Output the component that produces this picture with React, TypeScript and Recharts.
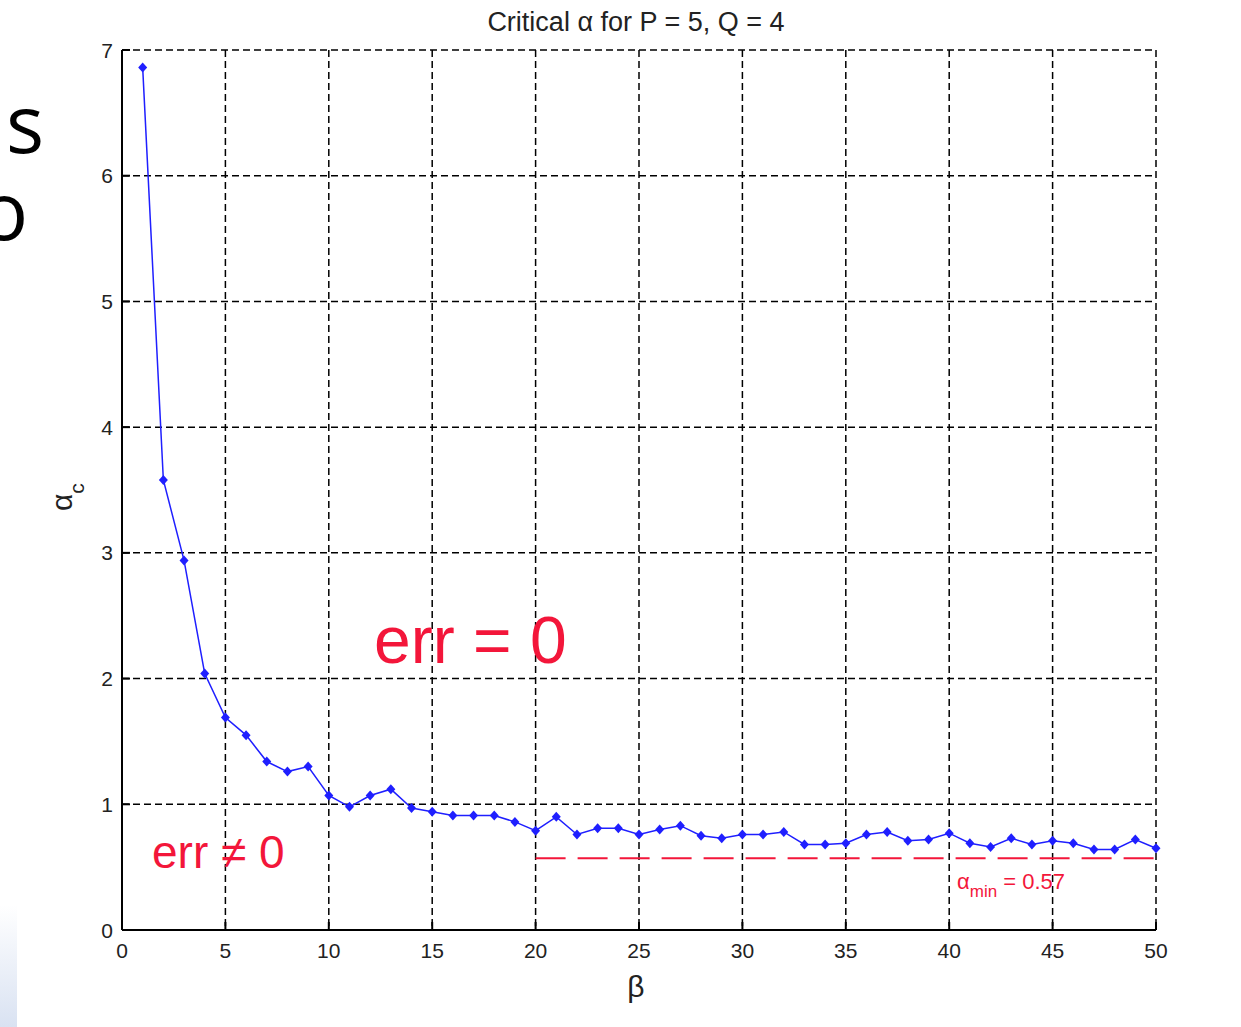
import React from 'react';
import { LineChart, Line, XAxis, YAxis, CartesianGrid, ReferenceLine } from 'recharts';

// beta values 1..50 and the critical alpha
const betas = [
  1, 2, 3, 4, 5, 6, 7, 8, 9, 10,
  11, 12, 13, 14, 15, 16, 17, 18, 19, 20,
  21, 22, 23, 24, 25, 26, 27, 28, 29, 30,
  31, 32, 33, 34, 35, 36, 37, 38, 39, 40,
  41, 42, 43, 44, 45, 46, 47, 48, 49, 50,
];
const alphaC = [
  6.86, 3.58, 2.94, 2.04, 1.69, 1.55, 1.34, 1.26, 1.30, 1.07,
  0.98, 1.07, 1.12, 0.97, 0.94, 0.91, 0.91, 0.91, 0.86, 0.79,
  0.90, 0.76, 0.81, 0.81, 0.76, 0.80, 0.83, 0.75, 0.73, 0.76,
  0.76, 0.78, 0.68, 0.68, 0.69, 0.76, 0.78, 0.71, 0.72, 0.77,
  0.69, 0.66, 0.73, 0.68, 0.71, 0.69, 0.64, 0.64, 0.72, 0.65,
];
const xTicks = [0, 5, 10, 15, 20, 25, 30, 35, 40, 45, 50];
const yTicks = [0, 1, 2, 3, 4, 5, 6, 7];
const alphaMin = 0.57;
const alphaMinFrom = 20;
const alphaMinTo = 50;

const data = betas.map((b, i) => ({ beta: b, alpha: alphaC[i] }));

const BLUE = '#1f1fff';
const RED = '#f3163a';
const FONT = '"Liberation Sans", Arial, sans-serif';

const Diamond = (props: any) => {
  const { cx, cy } = props;
  if (cx == null || cy == null) return null;
  return (
    <polygon
      points={`${cx},${cy - 5} ${cx + 4.5},${cy} ${cx},${cy + 5} ${cx - 4.5},${cy}`}
      fill={BLUE}
      stroke="none"
    />
  );
};

// tickSize is 0 and tickMargin 10, so the axis line sits 10px from the tick anchor
const YTick = (props: any) => {
  const { x, y, payload } = props;
  const axisX = x + 10;
  return (
    <g>
      <line x1={axisX} x2={axisX + 8} y1={y} y2={y} stroke="#000" strokeWidth={2} />
      <text x={axisX - 9} y={y} dy="0.36em" textAnchor="end" fontSize={21} fontFamily={FONT} fill="#222">
        {payload.value}
      </text>
    </g>
  );
};

const XTick = (props: any) => {
  const { x, y, payload } = props;
  const axisY = y - 10;
  return (
    <g>
      <line x1={x} x2={x} y1={axisY} y2={axisY - 8} stroke="#000" strokeWidth={2} />
      <text x={x} y={axisY + 28} textAnchor="middle" fontSize={21} fontFamily={FONT} fill="#222">
        {payload.value}
      </text>
    </g>
  );
};

export default function App() {
  return (
    <div style={{ position: 'absolute', left: 0, top: 0, width: 1241, height: 1027, background: '#fff' }}>
      <LineChart
        width={1241}
        height={1027}
        data={data}
        margin={{ top: 50, right: 85, bottom: 57, left: 62 }}
      >
        <CartesianGrid stroke="#000" strokeWidth={1.5} strokeDasharray="7 4" />
        <XAxis
          dataKey="beta"
          type="number"
          domain={[0, 50]}
          ticks={xTicks}
          height={40}
          tickSize={0}
          tickMargin={10}
          tickLine={false}
          axisLine={{ stroke: '#000', strokeWidth: 2 }}
          tick={XTick}
          interval={0}
        />
        <YAxis
          type="number"
          domain={[0, 7]}
          ticks={yTicks}
          width={60}
          tickSize={0}
          tickMargin={10}
          tickLine={false}
          axisLine={{ stroke: '#000', strokeWidth: 2 }}
          tick={YTick}
          interval={0}
        />
        <ReferenceLine
          segment={[
            { x: alphaMinFrom, y: alphaMin },
            { x: alphaMinTo, y: alphaMin },
          ]}
          stroke={RED}
          strokeWidth={2}
          strokeDasharray="30 12"
        />
        <Line
          type="linear"
          dataKey="alpha"
          stroke={BLUE}
          strokeWidth={1.5}
          dot={<Diamond />}
          activeDot={false}
          isAnimationActive={false}
        />
      </LineChart>

      <svg
        width={1241}
        height={1027}
        style={{ position: 'absolute', left: 0, top: 0, pointerEvents: 'none' }}
      >
        <defs>
          <linearGradient id="slideFade" x1="0" y1="0" x2="0" y2="1">
            <stop offset="0" stopColor="#ffffff" />
            <stop offset="1" stopColor="#d9e2f2" />
          </linearGradient>
        </defs>
        <rect x={0} y={905} width={17} height={122} fill="url(#slideFade)" />
        <text x={6} y={153} fontSize={80} fontFamily='"Open Sans", sans-serif' fill="#000">s</text>
        <text x={28} y={240} textAnchor="end" fontSize={80} fontFamily='"Open Sans", sans-serif' fill="#000">o</text>

        <text x={636} y={31} textAnchor="middle" fontSize={27} fontFamily={FONT} fill="#222">
          Critical α for P = 5, Q = 4
        </text>
        <text transform="translate(72,511) rotate(-90)" fontSize={30} fontFamily={FONT} fill="#222">
          α<tspan fontSize={21} dy={12}>c</tspan>
        </text>
        <text x={636} y={997} textAnchor="middle" fontSize={30} fontFamily={FONT} fill="#222">
          β
        </text>

        <text x={374} y={663} fontSize={66} fontFamily={FONT} fill={RED}>err = 0</text>
        <text x={152} y={868} fontSize={46} fontFamily={FONT} fill={RED}>err ≠ 0</text>
        <text x={957} y={889} fontSize={22} fontFamily={FONT} fill={RED}>
          α<tspan fontSize={17} dy={8}>min</tspan>
          <tspan dy={-8}> = 0.57</tspan>
        </text>
      </svg>
    </div>
  );
}
